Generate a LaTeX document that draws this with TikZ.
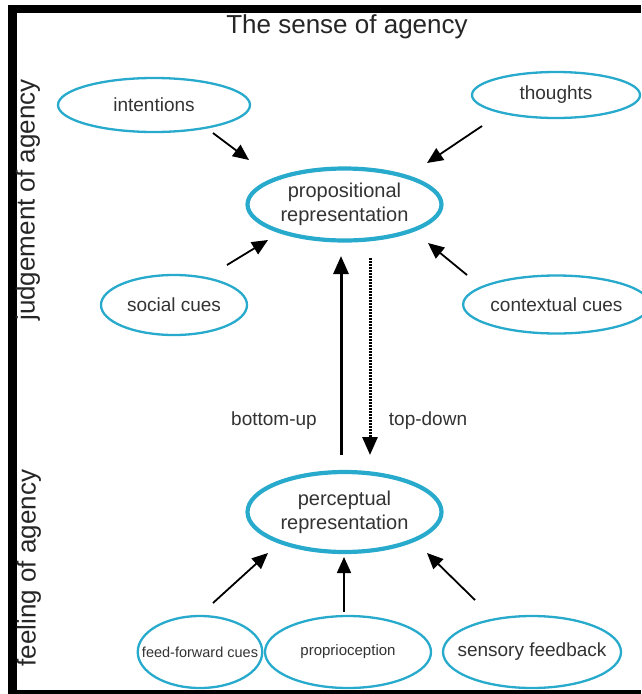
\documentclass[tikz,border=0pt]{standalone}
\usepackage{fontspec}
\setmainfont{Liberation Sans}
\usetikzlibrary{shapes.geometric,arrows.meta}

\definecolor{ringblue}{RGB}{40,170,204}

\tikzset{
  cue/.style={ellipse, draw=ringblue, line width=2.3pt, inner sep=0pt,
    font=\fontsize{19}{22}\selectfont, text=black!80},
  repr/.style={ellipse, draw=ringblue, line width=4.2pt, inner sep=0pt,
    align=center, font=\fontsize{20}{24}\selectfont, text=black!80},
  arr/.style={line width=1.8pt, black, -{Triangle[length=16pt,width=14pt]}},
  mainarr/.style={line width=3pt, black, -{Triangle[length=18pt,width=15pt]}},
  dotarr/.style={line width=3pt, black, dash pattern=on 1.5pt off 1.5pt,
    -{Triangle[length=18pt,width=15pt]}},
  lbl/.style={font=\fontsize{19}{22}\selectfont, text=black!80},
  side/.style={font=\fontsize{26}{30}\selectfont, rotate=90, text=black!85},
}

\begin{document}
\begin{tikzpicture}[x=1pt,y=-1pt]
\useasboundingbox (0,0) rectangle (641,694);
\fill[white] (0,0) rectangle (641,694);

% frame
\fill[black] (8,5) rectangle (641,13);
\fill[black] (8,5) rectangle (17,694);
\fill[black] (8,690) rectangle (641,694);

% title and side labels
\node[anchor=base, font=\fontsize{26}{30}\selectfont, text=black!85] (title) at (347,33) {The sense of agency};
\node[side] (judg) at (28,200) {judgement of agency};
\node[side] (feel) at (29,568) {feeling of agency};

% representations
\node[repr, minimum width=194pt, minimum height=72pt] (prop) at (344.5,204.5) {propositional\\representation};
\node[repr, minimum width=194pt, minimum height=80pt] (perc) at (344.5,512) {perceptual\\representation};

% cues
\node[cue, minimum width=192pt, minimum height=54pt] (int) at (154,105) {intentions};
\node[cue, minimum width=168pt, minimum height=46pt] (tho) at (556,95) {thoughts};
\node[cue, minimum width=146pt, minimum height=60pt] (soc) at (174,305) {social cues};
\node[cue, minimum width=167pt, minimum height=58pt] (ctx) at (556.5,304.5) {contextual cues};
\node[cue, minimum width=122pt, minimum height=72pt, inner xsep=-14pt,
      font=\fontsize{14.5}{17}\selectfont] (ff) at (200,652) {feed-forward cues};
\node[cue, minimum width=166pt, minimum height=72pt, inner xsep=-10pt,
      font=\fontsize{15}{18}\selectfont] (pro) at (348,652) {proprioception};
\node[cue, minimum width=178pt, minimum height=72pt, inner xsep=-12pt] (sf) at (532,652) {sensory feedback};

% arrow end points
\coordinate (intS) at (213,133);  \coordinate (intT) at (249,160);
\coordinate (thoS) at (482,126);  \coordinate (thoT) at (427,163);
\coordinate (socS) at (227,265);  \coordinate (socT) at (268,240);
\coordinate (ctxS) at (467,275);  \coordinate (ctxT) at (428,243);
\coordinate (buS) at (341,455);   \coordinate (buT) at (341,256);
\coordinate (tdS) at (370,258);   \coordinate (tdT) at (370,455);
\coordinate (ffS) at (213,603);   \coordinate (ffT) at (268,553);
\coordinate (proS) at (344,612);  \coordinate (proT) at (344,557);
\coordinate (sfS) at (475,600);   \coordinate (sfT) at (427,553);

\draw[arr] (intS) -- (intT);
\draw[arr] (thoS) -- (thoT);
\draw[arr] (socS) -- (socT);
\draw[arr] (ctxS) -- (ctxT);
\draw[mainarr] (buS) -- (buT);
\draw[dotarr] (tdS) -- (tdT);
\draw[arr] (ffS) -- (ffT);
\draw[arr] (proS) -- (proT);
\draw[arr] (sfS) -- (sfT);

\node[lbl] (bu) at (274,421) {bottom-up};
\node[lbl] (td) at (428,421) {top-down};
\end{tikzpicture}
\end{document}
